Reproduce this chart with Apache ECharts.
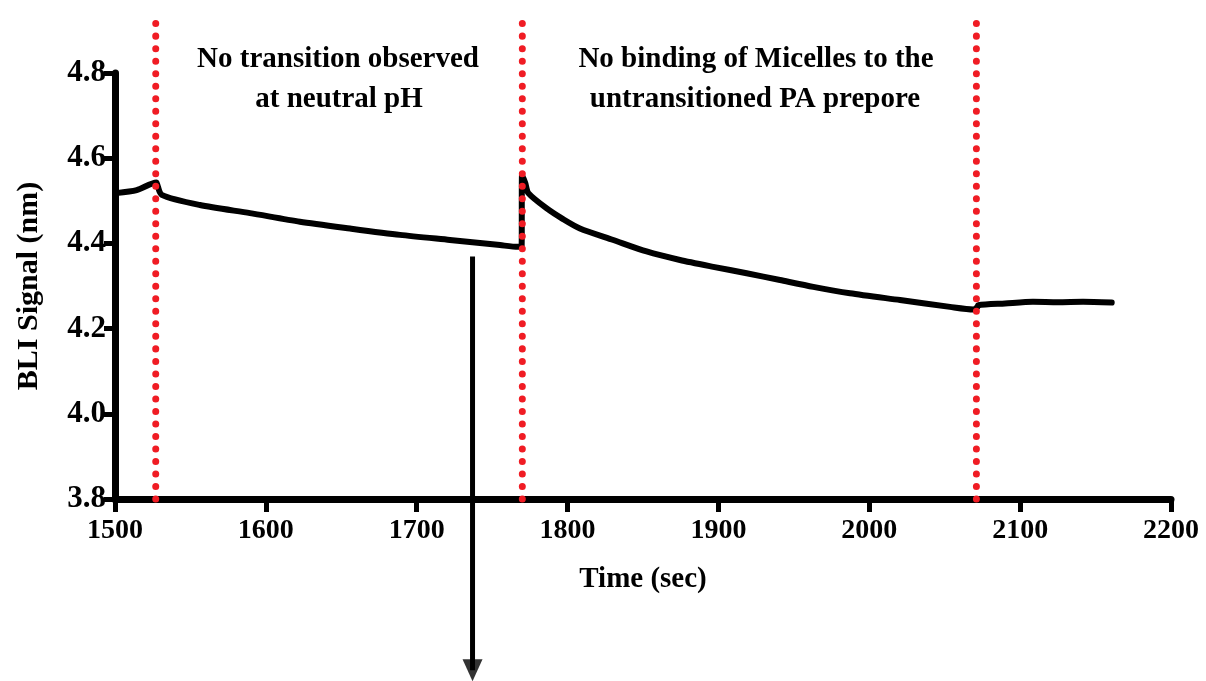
<!DOCTYPE html>
<html>
<head>
<meta charset="utf-8">
<script src="https://cdn.jsdelivr.net/npm/echarts@6/dist/echarts.min.js"></script>
<style>
html,body{margin:0;padding:0;background:#fff;}
#chart{width:1206px;height:681px;}
</style>
</head>
<body>
<div id="chart"></div>
<script>
// ---- data ----
const timeSec = [1500.7, 1514.4, 1527.4, 1527.8, 1531, 1556.3, 1589.5, 1622.6, 1655.8, 1688.9, 1722, 1755.2, 1767.1, 1769.5,
  1769.8, 1772, 1774, 1786.2, 1797, 1808.2, 1830.3, 1852.4, 1874.5, 1896.6, 1918.7, 1940.8, 1962.9, 1987.2, 2020.4, 2053.5, 2069,
  2071.5, 2072.2, 2090, 2108.5, 2125, 2141.7, 2160.7];
const bliSignal = [4.518, 4.525, 4.543, 4.540, 4.514, 4.490, 4.471, 4.451, 4.435, 4.420, 4.408, 4.396, 4.392, 4.392,
  4.561, 4.541, 4.518, 4.482, 4.457, 4.435, 4.408, 4.381, 4.361, 4.345, 4.330, 4.314, 4.298, 4.283, 4.267, 4.251, 4.245,
  4.250, 4.255, 4.259, 4.263, 4.262, 4.263, 4.261];
const phaseBoundaries = [1527, 1770, 2071];   // red dotted lines
const boundaryRange = [3.8, 4.924];
const arrowTime = 1737;
const arrowRange = [4.369, 3.398];
const xTicks = [1500, 2200, 100];
const yTicks = [3.8, 4.8, 0.2];
const noteLeft = ['No transition observed', 'at neutral pH'];
const noteRight = ['No binding of Micelles to the', 'untransitioned PA prepore'];

// ---- layout ----
const W = 1206, H = 681;
const gLeft = 115, gRight = 35, gTop = 73, gBottom = 182;
const plotH = H - gTop - gBottom;
const pxPerUnit = plotH / (yTicks[1] - yTicks[0]);
const y2Max = yTicks[1] + gTop / pxPerUnit;
const y2Min = yTicks[0] - gBottom / pxPerUnit;
const serif = '"Liberation Serif", "Times New Roman", serif';

const chart = echarts.init(document.getElementById('chart'), null, {renderer: 'canvas'});

const series = [{
  type: 'line', xAxisIndex: 0, yAxisIndex: 0,
  data: timeSec.map((t, i) => [t, bliSignal[i]]),
  showSymbol: false, symbol: 'none',
  smooth: 0.25,
  lineStyle: {color: '#000', width: 6, join: 'round', cap: 'round'},
  animation: false, z: 3
}];
phaseBoundaries.forEach(t => {
  series.push({
    type: 'line', xAxisIndex: 1, yAxisIndex: 1,
    data: [[t, boundaryRange[0]], [t, boundaryRange[1]]],
    showSymbol: false, symbol: 'none', clip: false,
    lineStyle: {color: '#f01c24', width: 7, type: [0.01, 12.5], cap: 'round'},
    animation: false, z: 5
  });
});
series.push({
  type: 'line', xAxisIndex: 1, yAxisIndex: 1,
  data: [[arrowTime, arrowRange[0]], [arrowTime, arrowRange[1]]],
  showSymbol: false, symbol: 'none', clip: false,
  lineStyle: {color: '#000', width: 5},
  animation: false, z: 5
});
series.push({
  type: 'scatter', xAxisIndex: 1, yAxisIndex: 1,
  data: [[arrowTime, arrowRange[1]]],
  symbol: 'triangle', symbolSize: [20, 22], symbolRotate: 180,
  itemStyle: {color: '#000'}, clip: false,
  animation: false, z: 6
});

const noteFont = 'bold 29px ' + serif;
const option = {
  backgroundColor: '#fff',
  animation: false,
  grid: [
    {left: gLeft, right: gRight, top: gTop, bottom: gBottom, containLabel: false},
    {left: gLeft, right: gRight, top: 0, bottom: 0, containLabel: false}
  ],
  xAxis: [{
    type: 'value', gridIndex: 0,
    min: xTicks[0], max: xTicks[1], interval: xTicks[2],
    name: 'Time (sec)', nameLocation: 'middle', nameGap: 66,
    nameTextStyle: {fontFamily: serif, fontWeight: 'bold', fontSize: 29, color: '#000'},
    axisLine: {show: true, lineStyle: {color: '#000', width: 7}},
    axisTick: {show: true, length: 13, lineStyle: {color: '#000', width: 5}},
    axisLabel: {fontFamily: serif, fontWeight: 'bold', fontSize: 28, color: '#000', margin: 18,
      showMinLabel: true, showMaxLabel: true, formatter: v => String(v)},
    splitLine: {show: false}
  }, {
    type: 'value', gridIndex: 1, show: false,
    min: xTicks[0], max: xTicks[1]
  }],
  yAxis: [{
    type: 'value', gridIndex: 0,
    min: yTicks[0], max: yTicks[1], interval: yTicks[2],
    name: 'BLI Signal (nm)', nameLocation: 'middle', nameGap: 71, nameRotate: 90,
    nameTextStyle: {fontFamily: serif, fontWeight: 'bold', fontSize: 30, color: '#000'},
    axisLine: {show: true, lineStyle: {color: '#000', width: 7}},
    axisTick: {show: true, length: 11, lineStyle: {color: '#000', width: 5}},
    axisLabel: {fontFamily: serif, fontWeight: 'bold', fontSize: 31, color: '#000', margin: 9,
      formatter: v => v.toFixed(1)},
    splitLine: {show: false}
  }, {
    type: 'value', gridIndex: 1, show: false,
    min: y2Min, max: y2Max
  }],
  graphic: [
    {type: 'text', z: 10, silent: true, x: 338, y: 60,
     style: {text: noteLeft[0], align: 'center', verticalAlign: 'middle', font: noteFont, fill: '#000'}},
    {type: 'text', z: 10, silent: true, x: 339, y: 100,
     style: {text: noteLeft[1], align: 'center', verticalAlign: 'middle', font: noteFont, fill: '#000'}},
    {type: 'text', z: 10, silent: true, x: 756, y: 60,
     style: {text: noteRight[0], align: 'center', verticalAlign: 'middle', font: noteFont, fill: '#000'}},
    {type: 'text', z: 10, silent: true, x: 755, y: 100,
     style: {text: noteRight[1], align: 'center', verticalAlign: 'middle', font: noteFont, fill: '#000'}}
  ],
  series: series
};
chart.setOption(option);
</script>
</body>
</html>
